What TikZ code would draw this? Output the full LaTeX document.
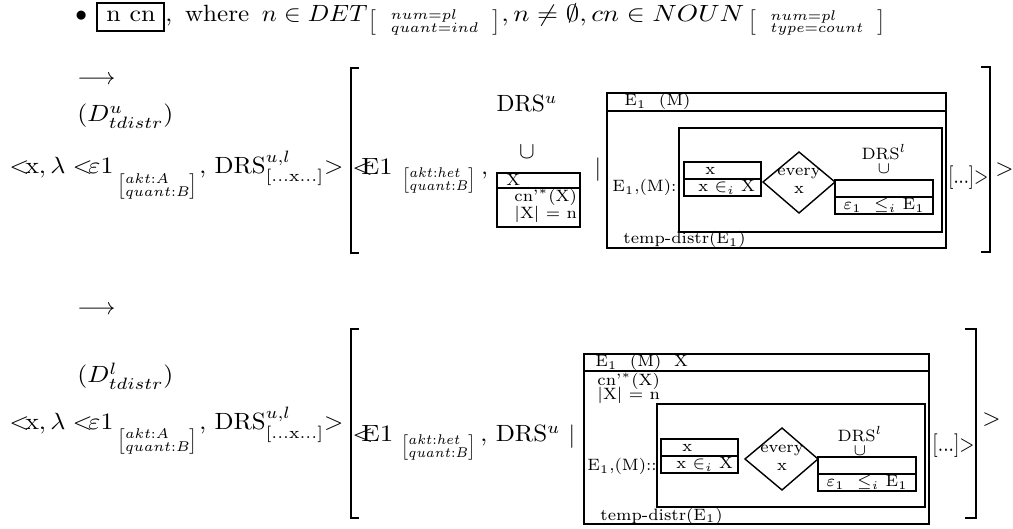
\documentclass[tikz,border=0pt]{standalone}
\usepackage{amsmath,amssymb}
\usepackage{graphicx}
\newlength{\pxu}
\setlength{\pxu}{0.4255pt}
\newcommand{\rw}[2]{\resizebox{#1\pxu}{\height}{#2}}
\newcommand{\fsT}[2]{{\fontsize{6}{6}\selectfont\renewcommand{\arraystretch}{0.8}$\left[\begin{array}{@{}l@{}}#1\\#2\end{array}\right]$}}
\newcommand{\fsW}[2]{{\fontsize{6}{6}\selectfont\renewcommand{\arraystretch}{0.75}$\left[\begin{array}{@{\hspace{6pt}}l@{\hspace{6pt}}}#1\\#2\end{array}\right]$}}
\newcommand{\lt}{<\mkern-8mu}
\begin{document}
\begin{tikzpicture}[x=0.4255pt,y=-0.4255pt,
  txt/.style={inner sep=0pt,anchor=base west},
  ctr/.style={inner sep=0pt},
  sm/.style={inner sep=0pt,anchor=base west,font=\scriptsize},
  smc/.style={inner sep=0pt,font=\scriptsize},
  boxl/.style={line width=0.5pt},
  dia/.style={line width=0.6pt},
  bigbr/.style={line width=1.2pt}]
\useasboundingbox (0,0) rectangle (1013,529);

% ---------- row 1
\node[txt] (bul) at (75,22) {$\bullet$};
\draw[boxl] (97,3) rectangle (164,31);
\node[txt] (ncn) at (106,22) {\rw{49}{n cn}};
\node[txt] (where) at (165,22) {\rw{202}{, \,where\, $n\in DET$}};
\node[ctr,anchor=west] (fsa) at (368,23) {\rw{132}{\fsW{num{=}pl}{quant{=}ind}}};
\node[txt] (neq) at (501,22) {\rw{243}{$, n\neq\emptyset, cn\in NOUN$}};
\node[ctr,anchor=west] (fsb) at (748,23) {\rw{137}{\fsW{num{=}pl}{type{=}count}}};

% ---------- row 2 (upper rule)
\node[txt] (arA) at (77,85) {$\longrightarrow$};
\node[txt] (du) at (77,122) {\rw{96}{$(D^u_{tdistr})$}};
\node[txt] (lxA) at (9,174) {\rw{104}{$\lt\mathrm{x}, \lambda \lt\varepsilon$1}};
\node[ctr,anchor=north west] (fsA1) at (117,173) {\rw{80}{\fsT{akt{:}A}{quant{:}B}}};
\node[txt] (drsA) at (199,174) {\rw{144}{, DRS$^{u,l}_{[...\mathrm{x}...]}$$>$}};
\draw[bigbr] (359,68) -- (351,68) -- (351,253) -- (359,253);
\node[txt] (eA) at (352,175) {\rw{40}{$\lt$E1}};
\node[ctr,anchor=north west] (fsA2) at (402,167) {\rw{73}{\fsT{akt{:}het}{quant{:}B}}};
\node[txt] (cmA) at (481,175) {,};
\node[txt,anchor=base] (drsuA) at (527,112) {DRS$^u$};
\node[ctr] (cupA) at (527,152) {$\cup$};
\draw[boxl] (497,173) rectangle (580,227);
\draw[boxl] (497,188) -- (580,188);
\node[sm] (xA) at (506,185.5) {X};
\node[sm] (cnA) at (514,202) {cn'$^*$(X)};
\node[sm] (nA) at (514,219) {$|$X$|$ = n};
\node[ctr] (barA) at (598,170) {$|$};
\draw[boxl] (607,93) rectangle (946,248);
\draw[boxl] (607,111) -- (946,111);
\node[sm] (hA) at (624,106) {E$_1$ \ (M)};
\draw[boxl] (679,128) rectangle (942,232);
\node[sm] (emA) at (612,192) {E$_1$,(M)::};
\node[sm] (tdA) at (623,244) {temp-distr(E$_1$)};
\draw[boxl] (684,162) rectangle (761,196);
\draw[boxl] (684,179) -- (761,179);
\node[sm] (x1A) at (705,175) {x};
\node[sm] (x2A) at (698,192) {x $\in_i$ X};
\coordinate (dlA) at (763,182);
\coordinate (dtA) at (799,152);
\coordinate (drA) at (835,182);
\coordinate (dbA) at (799,213);
\draw[dia] (dlA) -- (dtA) -- (drA) -- (dbA) -- cycle;
\node[smc] (evA) at (799,174) {every};
\node[smc] (evxA) at (799,190) {x};
\draw[boxl] (835,180) rectangle (933,214);
\draw[boxl] (835,197) -- (933,197);
\node[smc] (dlsA) at (884,152) {DRS$^l$};
\node[smc] (culA) at (884,169) {$\cup$};
\node[sm] (epA) at (843,210) {$\varepsilon_1$ \ $\leq_i$ E$_1$};
\node[txt] (dotsA) at (948,184) {\rw{40}{[...]$>$}};
\draw[bigbr] (981,67) -- (990,67) -- (990,252) -- (981,252);
\node[txt] (gtA) at (995,176) {$>$};

% ---------- row 3 (lower rule)
\node[txt] (arB) at (77,315) {$\longrightarrow$};
\node[txt] (dl) at (77,383) {\rw{96}{$(D^l_{tdistr})$}};
\node[txt] (lxB) at (9,430) {\rw{104}{$\lt\mathrm{x}, \lambda \lt\varepsilon$1}};
\node[ctr,anchor=north west] (fsB1) at (117,428) {\rw{80}{\fsT{akt{:}A}{quant{:}B}}};
\node[txt] (drsB) at (199,430) {\rw{144}{, DRS$^{u,l}_{[...\mathrm{x}...]}$$>$}};
\draw[bigbr] (359,329) -- (351,329) -- (351,518) -- (359,518);
\node[txt] (eB) at (352,442) {\rw{41}{$\lt$E1}};
\node[ctr,anchor=north west] (fsB2) at (401,434) {\rw{74}{\fsT{akt{:}het}{quant{:}B}}};
\node[txt] (drsuB) at (480,442) {\rw{80}{, DRS$^u$}};
\node[ctr] (barB) at (572,437) {$|$};
\draw[boxl] (584,354) rectangle (929,524);
\draw[boxl] (584,371) -- (929,371);
\node[sm] (hB) at (595,367) {E$_1$ \ (M) \ X};
\node[sm] (cnB) at (597,385.5) {cn'$^*$(X)};
\node[sm] (nB) at (597,400) {$|$X$|$ = n};
\draw[boxl] (657,404) rectangle (925,507);
\node[sm] (emB) at (587,471) {E$_1$,(M)::};
\node[sm] (tdB) at (600,520) {temp-distr(E$_1$)};
\draw[boxl] (661,439) rectangle (738,473);
\draw[boxl] (661,456) -- (738,456);
\node[sm] (x1B) at (682,452) {x};
\node[sm] (x2B) at (676,469) {x $\in_i$ X};
\coordinate (dlB) at (745,459);
\coordinate (dtB) at (782,428);
\coordinate (drB) at (818,459);
\coordinate (dbB) at (782,490);
\draw[dia] (dlB) -- (dtB) -- (drB) -- (dbB) -- cycle;
\node[smc] (evB) at (782,451) {every};
\node[smc] (evxB) at (782,467) {x};
\draw[boxl] (818,457) rectangle (916,491);
\draw[boxl] (818,474) -- (916,474);
\node[smc] (dlsB) at (860,434) {DRS$^l$};
\node[smc] (culB) at (860,451) {$\cup$};
\node[sm] (epB) at (826,487) {$\varepsilon_1$ \ $\leq_i$ E$_1$};
\node[txt] (dotsB) at (932,452) {\rw{42}{[...]$>$}};
\draw[bigbr] (965,329) -- (976,329) -- (976,518) -- (965,518);
\node[txt] (gtB) at (982,426) {$>$};
\end{tikzpicture}
\end{document}
